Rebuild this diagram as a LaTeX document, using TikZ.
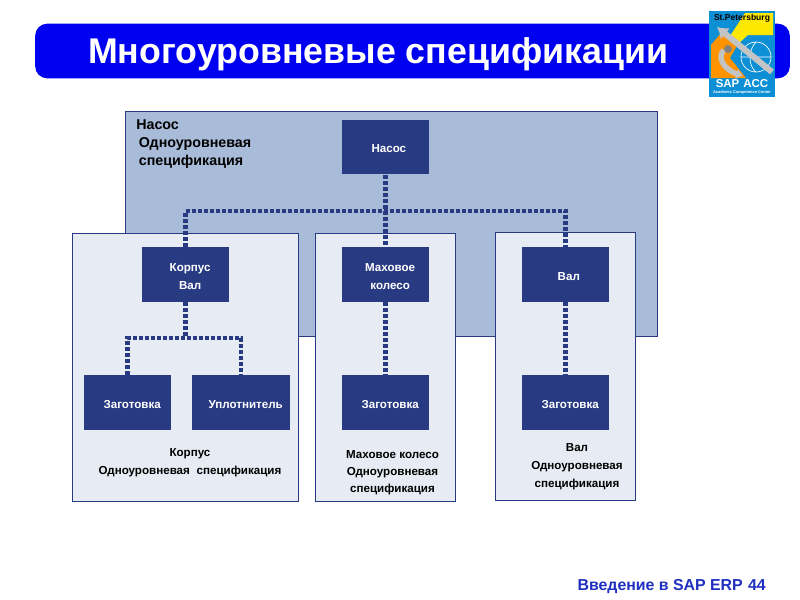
\documentclass[tikz,border=0pt]{standalone}
\usepackage{fontspec}
\setmainfont{Liberation Sans}
\usetikzlibrary{arrows.meta, positioning, calc}
\definecolor{navy}{HTML}{283A82}
\definecolor{titleblue}{HTML}{0000F0}
\definecolor{steel}{HTML}{A8BBD8}
\definecolor{pale}{HTML}{E7ECF4}
\definecolor{footblue}{HTML}{1F2FC0}
\definecolor{logoblue}{HTML}{0D8FD6}
\definecolor{logogrey}{HTML}{C4C4C4}
\newcommand{\blocktxt}[2]{\raisebox{-1.5pt}[\height][\depth]{\hspace{#1}\begin{tabular}{@{}c@{}}#2\end{tabular}}}
\tikzset{
  font=\bfseries\fontsize{8.7}{13.5}\selectfont,
  %
  panel/.style={draw=navy, line width=0.6pt, fill=pale, inner sep=0pt},
  panelback/.style={panel, fill=steel},
  block/.style={draw=none, fill=navy, text=white, align=center, inner sep=0pt,
                minimum height=41pt, minimum width=65pt},
  link/.style={draw=navy, line width=3.6pt, dash pattern=on 3pt off 1.5pt},
  lbl/.style={text=black, align=center, inner sep=0pt},
  lblleft/.style={lbl, align=left, font=\bfseries\fontsize{10.7}{13.5}\selectfont},
}
\begin{document}
\begin{tikzpicture}[x=0.75pt, y=-0.75pt]
  \useasboundingbox (0,0) rectangle (800,600);

  % title bar
  \node[draw=none, fill=titleblue, rounded corners=9pt, minimum width=566pt, minimum height=41pt, inner sep=0pt]
    (bar) at (412.5,51) {};
  \node[text=white, inner sep=0pt, font=\bfseries\fontsize{26.8}{30}\selectfont] (title) at (378,54) {Многоуровневые спецификации};

  % logo
  \node[draw=none, fill=logoblue, minimum width=49.5pt, minimum height=65pt, inner sep=0pt] (logo) at (742,54) {};
  \fill[yellow!90!orange] (745,13) -- (773,13) -- (773,35) -- (748,35) -- (738,44) -- (730,36) -- cycle;
  \fill[orange!85!yellow] (711,45) -- (722,32) -- (738,44) -- (730,58) -- (746,78) -- (711,78) -- cycle;
  \draw[white, line width=0.5pt] (756,57) circle (15) (741,57) -- (771,57) (756,42) .. controls (748,50) and (748,66) .. (756,72);
  \draw[logogrey, line width=4.5pt, -{Latex[length=8pt,width=11pt]}] (772,72) -- (717,27);
  \draw[logogrey, line width=4pt, -{Latex[length=5pt,width=8pt]}] (724,50) .. controls (716,58) and (725,70) .. (743,76);
  \fill[gray] (728,49) circle (4);
  \node[inner sep=0pt, text=black, font=\bfseries\fontsize{6.4}{7}\selectfont] (logotop) at (742,18) {St.Petersburg};
  \node[inner sep=0pt, text=white, font=\bfseries\fontsize{8.6}{9}\selectfont] (logosap) at (742,84) {SAP\hspace{3pt}ACC};
  \node[inner sep=0pt, text=white, font=\bfseries\fontsize{3}{3}\selectfont] (logosub) at (742,92) {Academic Competence Center};

  % panels
  \node[panelback, minimum width=399pt, minimum height=169pt] (pump) at (391.5,224) {};
  \node[panel, minimum width=169.5pt, minimum height=200.5pt] (housing) at (185,367.5) {};
  \node[panel, minimum width=105pt, minimum height=200.5pt] (wheel) at (385.5,367.5) {};
  \node[panel, minimum width=105pt, minimum height=201pt] (shaft) at (565.5,366) {};

  % blocks
  \node[block] (nasos) at (385.5,147) {\blocktxt{5pt}{Насос}};
  \node[block] (korpus) at (185.5,274.5) {\blocktxt{7pt}{Корпус\\Вал}};
  \node[block] (mahovoe) at (385.5,274.5) {\blocktxt{7pt}{Маховое\\колесо}};
  \node[block] (val) at (565.5,274.5) {\blocktxt{5pt}{Вал}};
  \node[block] (zag1) at (127.5,402.5) {\blocktxt{7pt}{Заготовка}};
  \node[block, minimum width=73.5pt] (seal) at (241,402.5) {\blocktxt{7pt}{Уплотнитель}};
  \node[block] (zag2) at (385.5,402.5) {\blocktxt{7pt}{Заготовка}};
  \node[block] (zag3) at (565.5,402.5) {\blocktxt{7pt}{Заготовка}};

  % connectors
  \coordinate (busmain) at (385.5,211);
  \coordinate (bussub) at (185.5,338);
  \draw[link] (nasos.south) -- (mahovoe.north);
  \draw[link] (korpus.north) |- (busmain) -| (val.north);
  \draw[link] (korpus.south) -- (bussub);
  \draw[link] (zag1.north) |- (bussub) -| (seal.north);
  \draw[link] (mahovoe.south) -- (zag2.north);
  \draw[link] (val.south) -- (zag3.north);

  % labels
  \node[lblleft, anchor=north west] (pumptext) at (136,119)
    {Насос\\\hspace{2pt}Одноуровневая\\\hspace{2pt}спецификация};
  \node[lbl, anchor=north] (housingtext) at (190,448) {Корпус\\Одноуровневая\hspace{5pt}спецификация};
  \node[lbl, anchor=north, font=\bfseries\fontsize{8.7}{12.8}\selectfont] (wheeltext) at (392.5,450.5) {Маховое колесо\\Одноуровневая\\спецификация};
  \node[lbl, anchor=north] (shafttext) at (577,443) {Вал\\Одноуровневая\\спецификация};

  % footer
  \node[anchor=east, inner sep=0pt, text=footblue, font=\bfseries\fontsize{11.9}{12}\selectfont] (foot) at (766,587) {Введение в SAP ERP\hspace{4pt}44};

\end{tikzpicture}
\end{document}
